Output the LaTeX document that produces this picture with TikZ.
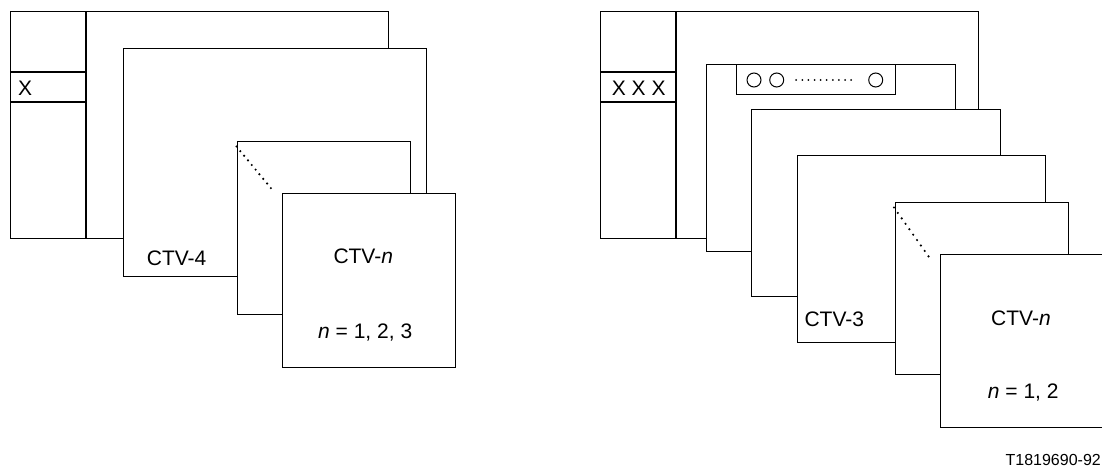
\documentclass[tikz,border=0pt]{standalone}
\usepackage{fontspec}
\setmainfont{Liberation Sans}
\begin{document}
\begin{tikzpicture}[x=1pt,y=-1pt,
  box/.style={draw=black,line width=1pt,fill=white},
  divider/.style={line width=2pt},
  hline/.style={line width=1.5pt},
  dotline/.style={line width=2.4pt,line cap=round,dash pattern=on 0pt off 6pt},
  txt/.style={anchor=base west,inner sep=0pt,font=\fontsize{21}{25}\selectfont},
  smalltxt/.style={anchor=base east,inner sep=0pt,font=\fontsize{16}{19}\selectfont},
  ring/.style={circle,draw=black,line width=1pt,minimum size=14pt,inner sep=0pt}]
\useasboundingbox (0,0) rectangle (1102,468);
% ---------------- left diagram ----------------
\draw[box] (10,12) rectangle (388,238);
\draw[divider] (86,12) -- (86,238);
\draw[hline] (10,72) -- (86,72);
\draw[hline] (10,102) -- (86,102);
\node[txt] (lx) at (18,96) {X};
\draw[box] (123,49) rectangle (426,276);
\node[txt] (lctv4) at (146.7,265) {CTV-4};
\draw[box] (237,141) rectangle (410,314);
\coordinate (lda) at (236.5,146.5);
\coordinate (ldb) at (274.5,192.5);
\draw[dotline] (lda) -- (ldb);
\draw[box] (282,193) rectangle (455,367);
\node[txt] (lctvn) at (333.3,263) {CTV-\textit{n}};
\node[txt] (lnval) at (318,338) {\textit{n} = 1, 2, 3};
% ---------------- right diagram ----------------
\draw[box] (600,12) rectangle (978,238);
\draw[divider] (676,12) -- (676,238);
\draw[hline] (600,72) -- (676,72);
\draw[hline] (600,102) -- (676,102);
\node[txt] (rx) at (611.7,96) {X X X};
\draw[box] (706,65) rectangle (955,251);
\draw[box] (736,65) rectangle (895,95);
\node[ring] (c1) at (754,80) {};
\node[ring] (c2) at (776.7,80) {};
\node[ring] (c3) at (875.7,80) {};
\draw[line width=2pt,line cap=round,dash pattern=on 0pt off 6.1pt] ([xshift=12pt]c2.east) -- ([xshift=-12pt]c3.west);
\draw[box] (751,110) rectangle (1000,296);
\draw[box] (797,155) rectangle (1045,342);
\node[txt] (rctv3) at (804.3,326.7) {CTV-3};
\draw[box] (895,202) rectangle (1068,374);
\coordinate (rda) at (894,207.5);
\coordinate (rdb) at (932.3,261.7);
\draw[dotline,dash pattern=on 0pt off 6.65pt] (rda) -- (rdb);
\draw[box] (940,254) rectangle (1113,427);
\node[txt] (rctvn) at (991,325) {CTV-\textit{n}};
\node[txt] (rnval) at (987.7,398.3) {\textit{n} = 1, 2};
\node[smalltxt] (tag) at (1101,465) {T1819690-92};
\end{tikzpicture}
\end{document}
